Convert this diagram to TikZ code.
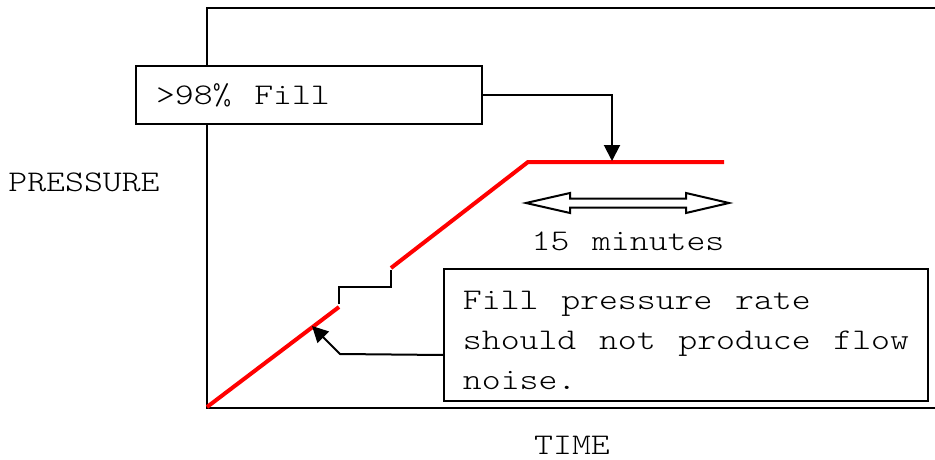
\documentclass[tikz,border=0pt]{standalone}
\usepackage{fontspec}
\setmonofont{lmmonolt10-regular.otf}[FakeStretch=1.2, WordSpace={1.2,0,0}]
\usetikzlibrary{arrows.meta}

\tikzset{
  txt/.style={font=\ttfamily\fontsize{30}{40}\selectfont},
  box/.style={draw, line width=2pt, fill=white, rectangle, align=flush left, txt},
  pointer/.style={line width=2pt, -{Triangle[length=16pt,width=16pt]}},
  curve/.style={red, line width=4pt},
  axis/.style={line width=2pt},
}

\begin{document}
\begin{tikzpicture}[x=1pt,y=-1pt]
\useasboundingbox (0,0) rectangle (935,460);
\fill[white] (0,0) rectangle (935,460);

% plot frame
\draw[axis] (935,8) -- (207,8) -- (207,407.5) -- (935,407.5);

% axis labels
\node[txt] (ylab) at (84,182) {PRESSURE};
\node[txt, inner sep=1pt] (xlab) at (572,445) {TIME};

% pressure curve: ramp, hold step, ramp, plateau
\draw[curve] (207,407) -- (339,307);
\draw[line width=2pt] (339,304) -- (339,287) -- (391,287) -- (391,270);
\draw[curve] (391,268) -- (528,162) -- (724,162);

% anchor points on the curve
\coordinate (plateau) at (612,161);
\coordinate (ramp) at (312,326);
\coordinate (bend) at (340,354);

% hold-time indicator (hollow double arrow)
\draw[line width=2pt, fill=white, line join=miter]
  (526,203) -- (570,193) -- (570,198.5) -- (686,198.5) -- (686,193) -- (729,203)
  -- (686,213) -- (686,207.5) -- (570,207.5) -- (570,213) -- cycle;
\node[txt] (dur) at (628,241) {15 minutes};

% callout boxes
\node[box, anchor=north west, inner xsep=20pt, inner ysep=0pt,
      text width=306pt, minimum height=58pt] (fill) at (135,65) {>98\% Fill};
\node[box, anchor=north west, inner xsep=0pt, inner ysep=0pt,
      minimum width=484pt, minimum height=132pt] (note) at (443,268)
  {\rule{0pt}{30pt}Fill pressure rate\\should not produce flow\\noise.};

% callout pointers
\draw[pointer] (fill.east) -| (plateau);
\draw[pointer] ([yshift=-20pt]note.west) -- (bend) -- (ramp);
\end{tikzpicture}
\end{document}
